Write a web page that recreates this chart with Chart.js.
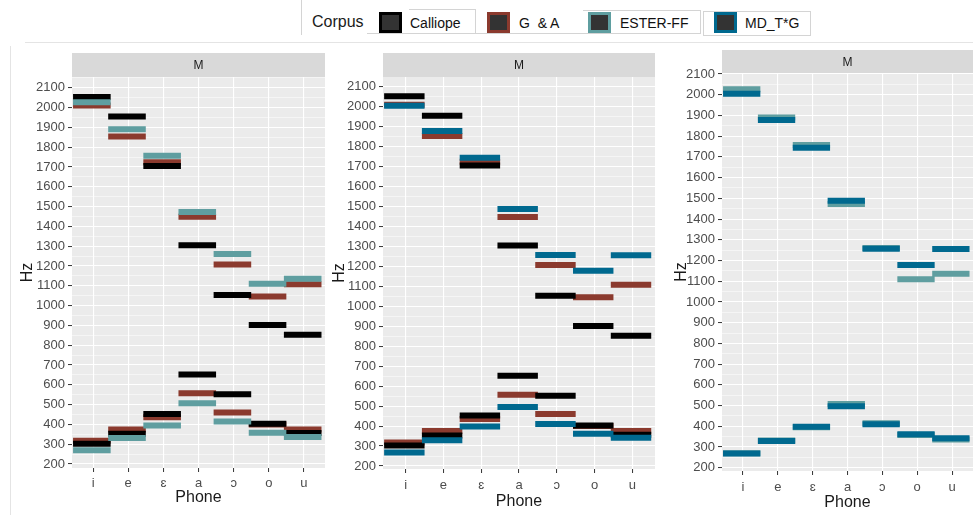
<!DOCTYPE html>
<html>
<head>
<meta charset="utf-8">
<script src="https://cdn.jsdelivr.net/npm/chart.js@4.4.1/dist/chart.umd.min.js"></script>
<style>
  body { margin: 0; width: 973px; height: 515px; background: #fff; position: relative; overflow: hidden;
         font-family: "Liberation Sans", Arial, sans-serif; }
  canvas { position: absolute; }
  .ln { position: absolute; background: #d4d4d4; }
  .key { position: absolute; top: 12px; width: 23px; height: 21px; box-sizing: border-box;
         border: 3px solid #000; background: #333; }
  .lbl { position: absolute; top: 15px; font-size: 14px; color: #111; white-space: pre; }
</style>
</head>
<body>
<div class="ln" style="left:301px;top:0;width:1px;height:35px"></div>
<div class="ln" style="left:367px;top:33px;width:108px;height:1px"></div>
<div class="ln" style="left:409px;top:9px;width:66px;height:1px"></div>
<div class="ln" style="left:475px;top:9px;width:1px;height:25px"></div>
<div class="ln" style="left:475px;top:33px;width:108px;height:1px"></div>
<div class="ln" style="left:583px;top:10px;width:117px;height:1px"></div>
<div class="ln" style="left:700px;top:10px;width:1px;height:24px"></div>
<div class="ln" style="left:583px;top:33px;width:117px;height:1px"></div>
<div class="ln" style="left:703px;top:11px;width:107px;height:1px"></div>
<div class="ln" style="left:703px;top:11px;width:1px;height:24px"></div>
<div class="ln" style="left:703px;top:35px;width:107px;height:1px"></div>
<div class="ln" style="left:810px;top:11px;width:1px;height:25px"></div>
<div style="position:absolute;left:312px;top:13px;font-size:16px;color:#1a1a1a">Corpus</div>
<div id="legend"></div>

<div class="ln" style="left:25px;top:42px;width:948px;height:1px;background:#e4e4e4"></div>
<div class="ln" style="left:10px;top:46px;width:1px;height:469px;background:#e4e4e4"></div>

<canvas id="p1" width="320" height="472" style="left:10px;top:43px"></canvas>
<canvas id="p2" width="330" height="472" style="left:330px;top:43px"></canvas>
<canvas id="p3" width="313" height="472" style="left:660px;top:43px"></canvas>

<script>
// categorias e valores (Hz)
const phones = ['i', 'e', 'ɛ', 'a', 'ɔ', 'o', 'u'];
const corpora = ['Calliope', 'G  & A', 'ESTER-FF', 'MD_T*G'];
const corpusColors = ['#000000', '#8B3A2E', '#5F9EA0', '#00698F'];

const calliopeF1 = [303, 353, 453, 652, 552, 403, 357];
const calliopeF2 = [2053, 1955, 1705, 1305, 1053, 902, 853];
const gaF1 = [318, 375, 436, 557, 460, 400, 375];
const gaF2 = [2010, 1854, 1724, 1448, 1207, 1046, 1108];
const esterF1 = [270, 331, 395, 507, 415, 358, 336];
const esterF2 = [2026, 1890, 1757, 1473, 1260, 1110, 1136];
const mdF1 = [268, 329, 398, 496, 410, 361, 342];
const mdF2 = [2005, 1878, 1744, 1488, 1257, 1178, 1256];

const yTicks = [200, 300, 400, 500, 600, 700, 800, 900, 1000, 1100,
                1200, 1300, 1400, 1500, 1600, 1700, 1800, 1900, 2000, 2100];
const stripLabel = 'M';

const formants = {
    'Calliope': [calliopeF1, calliopeF2],
    'G  & A': [gaF1, gaF2],
    'ESTER-FF': [esterF1, esterF2],
    'MD_T*G': [mdF1, mdF2]
};

// legenda em HTML
const keyX = [379, 487, 588, 714];
const textX = [410, 519, 620, 745];
const legend = document.getElementById('legend');
corpora.forEach((c, i) => {
    const k = document.createElement('div');
    k.className = 'key';
    k.style.left = keyX[i] + 'px';
    k.style.borderColor = corpusColors[i];
    legend.appendChild(k);
    const t = document.createElement('div');
    t.className = 'lbl';
    t.style.left = textX[i] + 'px';
    t.textContent = c;
    legend.appendChild(t);
});

// fundo cinza + faixa "M"
const panelBg = {
    id: 'panelBg',
    beforeDraw(chart, args, opts) {
        const { ctx, chartArea: a } = chart;
        ctx.save();
        ctx.fillStyle = '#EBEBEB';
        ctx.fillRect(a.left, a.top, a.right - a.left, a.bottom - a.top);
        ctx.fillStyle = '#D9D9D9';
        ctx.fillRect(a.left, a.top - opts.strip, a.right - a.left, opts.strip);
        ctx.fillStyle = '#1A1A1A';
        ctx.font = '12px "Liberation Sans", Arial, sans-serif';
        ctx.textAlign = 'center';
        ctx.textBaseline = 'middle';
        ctx.fillText(stripLabel, (a.left + a.right) / 2, a.top - opts.strip / 2 + 1);
        ctx.restore();
    }
};

function segmentos(vals) {
    const pts = [];
    vals.forEach((v, i) => {
        pts.push({ x: i - 0.57, y: v }, { x: i + 0.5, y: v }, { x: i + 0.5, y: null });
    });
    return pts;
}

// ordem de desenho: primeiro = por cima
const zOrder = ['MD_T*G', 'ESTER-FF', 'Calliope', 'G  & A'];

const tickFont = { family: '"Liberation Sans", Arial, sans-serif', size: 13 };
const titleFont = { family: '"Liberation Sans", Arial, sans-serif', size: 16 };

function painel(id, lista, g) {
    const datasets = [];
    zOrder.filter(c => lista.includes(c)).forEach(c => {
        const cor = corpusColors[corpora.indexOf(c)];
        formants[c].forEach(vals => {
            datasets.push({
                label: c,
                data: segmentos(vals),
                borderColor: cor,
                backgroundColor: cor,
                borderWidth: 6,
                borderCapStyle: 'butt',
                pointRadius: 0,
                spanGaps: false,
                tension: 0
            });
        });
    });

    const minor = [];
    yTicks.forEach(t => { minor.push(t); if (t + 50 <= g.max) minor.push(t + 50); });
    if (yTicks[0] - 50 >= g.min) minor.unshift(yTicks[0] - 50);

    return new Chart(document.getElementById(id).getContext('2d'), {
        type: 'line',
        data: { datasets },
        options: {
            responsive: false,
            animation: false,
            layout: { padding: { top: g.top, right: g.right, left: 0, bottom: 0 } },
            plugins: {
                legend: { display: false },
                tooltip: { enabled: false },
                panelBg: { strip: g.strip }
            },
            scales: {
                x: {
                    type: 'linear',
                    min: -0.6,
                    max: 6.6,
                    afterBuildTicks: s => { s.ticks = phones.map((p, i) => ({ value: i })); },
                    afterFit: s => { s.height = g.xh; },
                    ticks: {
                        callback: v => phones[v],
                        autoSkip: false,
                        maxRotation: 0,
                        color: '#4D4D4D',
                        font: tickFont,
                        padding: g.xpad
                    },
                    grid: { color: '#FFFFFF', lineWidth: 1.1, tickColor: '#333333', tickLength: 4, tickWidth: 1 },
                    border: { display: false },
                    title: { display: true, text: 'Phone', color: '#1A1A1A', font: titleFont,
                             padding: { top: 0, bottom: g.phonePad } }
                },
                y: {
                    type: 'linear',
                    min: g.min,
                    max: g.max,
                    afterBuildTicks: s => { s.ticks = minor.map(v => ({ value: v })); },
                    afterFit: s => { s.width = g.yw; },
                    ticks: {
                        callback: v => (yTicks.includes(v) ? String(v) : ''),
                        autoSkip: false,
                        color: '#4D4D4D',
                        font: tickFont,
                        padding: 3
                    },
                    grid: {
                        color: '#FFFFFF',
                        lineWidth: c => (yTicks.includes(c.tick.value) ? 1.1 : 0.5),
                        tickColor: c => (yTicks.includes(c.tick.value) ? '#333333' : 'rgba(0,0,0,0)'),
                        tickLength: 4,
                        tickWidth: 1
                    },
                    border: { display: false },
                    title: { display: true, text: 'Hz', color: '#1A1A1A', font: titleFont,
                             padding: { top: g.hzPad, bottom: 0 } }
                }
            }
        },
        plugins: [panelBg]
    });
}

painel('p1', ['Calliope', 'G  & A', 'ESTER-FF'],
    { min: 180, max: 2154, top: 34, right: 5, yw: 62, xh: 47, strip: 24, xpad: 4, phonePad: 8, hzPad: 8 });
painel('p2', ['Calliope', 'G  & A', 'MD_T*G'],
    { min: 185, max: 2149, top: 34, right: 5, yw: 53, xh: 46, strip: 24, xpad: 5, phonePad: 4, hzPad: 0 });
painel('p3', ['ESTER-FF', 'MD_T*G'],
    { min: 184, max: 2105, top: 30, right: 0, yw: 62, xh: 44, strip: 23, xpad: 5, phonePad: 3, hzPad: 12 });
</script>
</body>
</html>
